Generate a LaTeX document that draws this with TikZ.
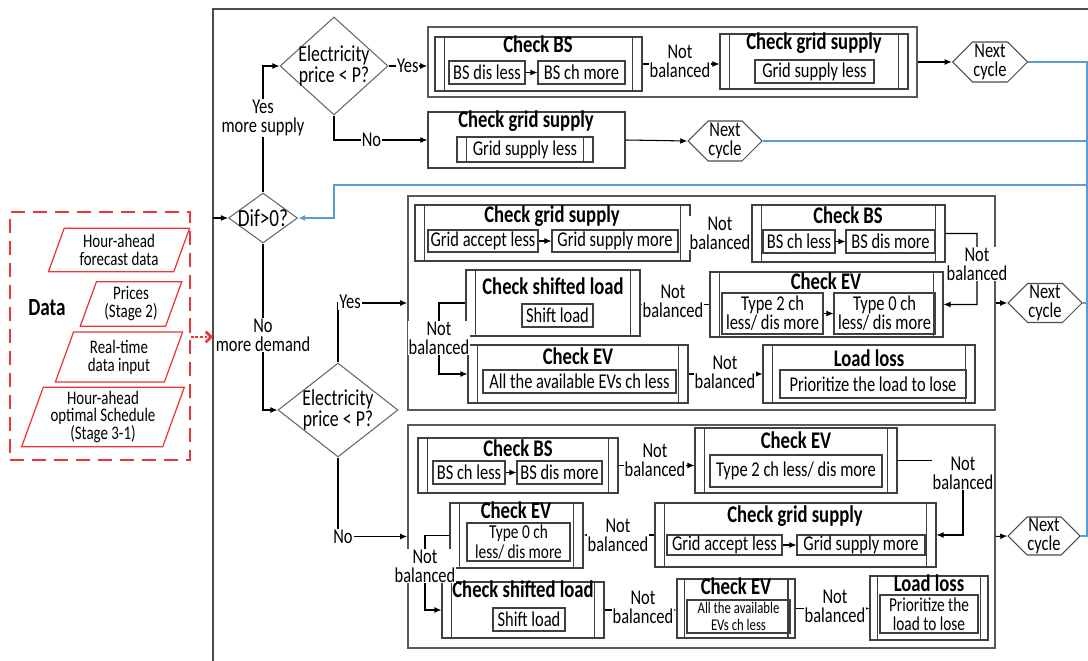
\documentclass[tikz,border=0pt]{standalone}
\usepackage{fontspec}
\setmainfont{Carlito}[FakeStretch=0.78]
\usetikzlibrary{arrows.meta,fit,shapes.geometric,shapes.symbols}
\definecolor{lblue}{RGB}{91,155,213}
\definecolor{dred}{RGB}{238,52,52}
\tikzset{
  arr/.style={-{Latex[length=4pt,width=3.4pt]}, line width=0.6pt},
  txt/.style={font=\fontsize{12}{10.8}\selectfont, align=center, inner sep=0.5pt},
  tx/.style={label={[txt]center:#1}},
  txs/.style={label={[txt, font=\fontsize{11.2}{11}\selectfont]center:#1}},
  lbl/.style={txt, fill=white},
  ttl/.style={font=\fontsize{13.6}{13}\selectfont\bfseries, inner sep=0pt, anchor=base},
  grp/.style={draw=black!65, line width=1pt, inner sep=0pt},
  plain/.style={draw=black!75, line width=0.6pt, inner sep=0pt},
  proc/.style={draw=black!75, line width=0.6pt, inner sep=0pt,
    path picture={
      \draw[black!75, line width=0.6pt]
        ([xshift=#1]path picture bounding box.north west) -- ([xshift=#1]path picture bounding box.south west)
        ([xshift=-#1]path picture bounding box.north east) -- ([xshift=-#1]path picture bounding box.south east);}},
  proc/.default=5.5pt,
  dec/.style={diamond, draw=black!60, line width=0.6pt, inner sep=0pt},
  dectxt/.style={font=\fontsize{13}{12.3}\selectfont, align=center, inner sep=0pt},
  nxt/.style={signal, signal to=east and west, draw=black!70, line width=0.6pt, txt, inner sep=0pt},
  src/.style={trapezium, trapezium left angle=70, trapezium right angle=110, draw=dred,
    line width=0.7pt, inner sep=0pt, font=\fontsize{10.9}{10.2}\selectfont, align=center},
  databox/.style={draw=dred, dash pattern=on 8pt off 4.5pt, line width=1pt, inner sep=0pt},
  back/.style={draw=lblue, line width=0.8pt},
}
\begin{document}
\begin{tikzpicture}[x=0.02cm, y=-0.02cm]
\useasboundingbox (0,0) rectangle (1088,661);
% frame
\draw[black!70, line width=0.8pt] (213,661) -- (213,9) -- (1088,9);

% data inputs
\node[databox, fit={(10,212) (190,460)}] (data) {};
\node[font=\fontsize{14}{14}\selectfont\bfseries] (dataT) at (47,308) {Data};
\node[src, minimum width=2.84cm, minimum height=0.8cm] (src1) at (119,250) {Hour-ahead\\forecast data};
\node[src, minimum width=2.04cm, minimum height=0.72cm] (src2) at (131,304) {Prices\\(Stage 2)};
\node[src, minimum width=2.56cm, minimum height=0.9cm] (src3) at (119,357) {Real-time\\data input};
\node[src, minimum width=3.26cm, minimum height=1.12cm] (src4) at (103,417) {Hour-ahead\\optimal Schedule\\(Stage 3-1)};
\coordinate (dIn) at (213,337);
\draw[dred, densely dotted, line width=1.6pt, -{Straight Barb[length=3pt]}] (data.east |- dIn) -- (dIn);

% decisions
\node[dec, minimum width=1.38cm, minimum height=1cm,
  label={[dectxt, font=\fontsize{14}{14}\selectfont]center:Dif>0?}] (dif) at (263,218) {};
\node[dec, minimum width=2.16cm, minimum height=1.96cm,
  label={[dectxt]center:Electricity\\price < P?}] (dec1) at (334,66) {};
\node[dec, minimum width=2.4cm, minimum height=1.88cm,
  label={[dectxt]center:Electricity\\price < P?}] (dec2) at (338,410) {};
\coordinate (difIn) at (213,218);
\draw[arr] (difIn) -- (dif.west);

% more supply, cheap
\node[grp, fit={(428,27) (917,97)}] (grpA) {};
\node[proc, fit={(435,37) (642,91)}] (bs1) {};
\node[ttl] (bs1t) at (538,53) {Check BS};
\node[plain, fit={(449,61) (525,84)}, tx={BS dis less}] (bs1a) {};
\node[plain, fit={(538,61) (625,84)}, tx={BS ch more}] (bs1b) {};
\draw[arr] (bs1a) -- (bs1b);
\node[proc, fit={(720,34) (908,89)}] (gs1) {};
\node[ttl] (gs1t) at (814,50) {Check grid supply};
\node[plain, fit={(755,60) (874,83)}, tx={Grid supply less}] (gs1a) {};
\draw[arr] (bs1.east) -- (bs1.east -| gs1.west);
\node[lbl] (nb1) at (680,61) {Not\\balanced};
\node[nxt, minimum width=1.5cm, minimum height=0.8cm] (nx1) at (990,62) {Next\\cycle};
\draw[arr] (grpA.east) -- (nx1.west);

% more supply, expensive
\node[plain, fit={(428,112) (625,168)}] (gs2) {};
\node[ttl] (gs2t) at (526,128) {Check grid supply};
\node[proc, fit={(457,137) (593,162)}, tx={Grid supply less}] (gs2a) {};
\node[nxt, minimum width=1.48cm, minimum height=0.8cm] (nx2) at (725,141) {Next\\cycle};
\draw[arr] (gs2.east) -- (nx2.west);

\draw[arr] (dif.north) |- (dec1.west);
\node[lbl] (ysup) at (263,118) {Yes\\more supply};
\draw[arr] (dec1.east) -- (dec1.east -| grpA.west) node[lbl, midway] (y1) {Yes};
\draw[arr] (dec1.south) |- (gs2.west) node[lbl, pos=0.7] (n1) {No};

% more demand, cheap
\node[grp, fit={(408,196) (995,410)}] (grpB) {};
\node[proc, fit={(415,205) (690,261)}] (gs3) {};
\node[ttl] (gs3t) at (552,223) {Check grid supply};
\node[plain, fit={(428,230) (538,252)}, tx={Grid accept less}] (gs3a) {};
\node[plain, fit={(552,230) (678,252)}, tx={Grid supply more}] (gs3b) {};
\draw[arr] (gs3a) -- (gs3b);
\node[proc, fit={(752,205) (945,262)}] (bs3) {};
\node[ttl] (bs3t) at (848,224) {Check BS};
\node[plain, fit={(763,230) (835,253)}, tx={BS ch less}] (bs3a) {};
\node[plain, fit={(846,230) (935,253)}, tx={BS dis more}] (bs3b) {};
\draw[arr] (bs3a) -- (bs3b);
\draw[arr] (gs3.east) -- (gs3.east -| bs3.west);
\node[lbl] (nb3) at (720,233) {Not\\balanced};
\node[proc, fit={(710,272) (943,337)}] (ev3) {};
\node[ttl] (ev3t) at (826,290) {Check EV};
\node[plain, fit={(722,293) (823,334)}, tx={Type 2 ch\\less/ dis more}] (ev3a) {};
\node[plain, fit={(834,293) (935,334)}, tx={Type 0 ch\\less/ dis more}] (ev3b) {};
\draw[arr] (ev3a) -- (ev3b);
\coordinate (c3) at (977,304.5);
\draw[arr] (bs3.east) -| (c3) -- (ev3.east);
\node[lbl] (nb3b) at (977,264) {Not\\balanced};
\node[proc, fit={(466,270) (640,336)}] (ls3) {};
\node[ttl] (ls3t) at (553,295) {Check shifted load};
\node[plain, fit={(522,304) (593,327)}, tx={Shift load}] (ls3a) {};
\draw[arr] (ev3.west) -- (ev3.west -| ls3.east);
\node[lbl] (nb4) at (673,301) {Not\\balanced};
\node[proc, fit={(468,345) (688,403)}] (ev4) {};
\node[ttl] (ev4t) at (578,365) {Check EV};
\node[plain, fit={(483,370) (676,393)}, tx={All the available EVs ch less}] (ev4a) {};
\coordinate (c4) at (439,374);
\draw[arr] (ls3.west) -| (c4) -- (ev4.west);
\node[lbl] (nb5) at (439,338) {Not\\balanced};
\node[proc, fit={(763,345) (975,403)}] (ll4) {};
\node[ttl] (ll4t) at (869,367) {Load loss};
\node[plain, fit={(780,370) (966,398)}, tx={Prioritize the load to lose}] (ll4a) {};
\draw[arr] (ev4.east) -- (ev4.east -| ll4.west);
\node[lbl] (nb6) at (725,372) {Not\\balanced};
\node[nxt, minimum width=1.48cm, minimum height=0.78cm] (nxM) at (1045,303) {Next\\cycle};
\draw[arr] (grpB.east) -- (nxM.west);

\draw[arr] (dif.south) |- (dec2.west);
\node[lbl] (ndem) at (263,335) {No\\more demand};
\draw[arr] (dec2.north) |- (grpB.west);
\node[lbl] (y2) at (350,302) {Yes};

% more demand, expensive
\node[grp, fit={(408,425) (995,648)}] (grpC) {};
\node[proc, fit={(418,438) (618,493)}] (bs5) {};
\node[ttl] (bs5t) at (518,457) {Check BS};
\node[plain, fit={(433,461) (505,484)}, tx={BS ch less}] (bs5a) {};
\node[plain, fit={(517,461) (602,484)}, tx={BS dis more}] (bs5b) {};
\draw[arr] (bs5a) -- (bs5b);
\node[proc, fit={(695,428) (897,493)}] (ev5) {};
\node[ttl] (ev5t) at (796,449) {Check EV};
\node[plain, fit={(710,455) (882,487)}, tx={Type 2 ch less/ dis more}] (ev5a) {};
\draw[arr] (bs5.east) -- (bs5.east -| ev5.west);
\node[lbl] (nb7) at (655,460) {Not\\balanced};
\node[proc, fit={(655,503) (936,567)}] (gs6) {};
\node[ttl] (gs6t) at (795,523) {Check grid supply};
\node[plain, fit={(667,535) (782,555)}, tx={Grid accept less}] (gs6a) {};
\node[plain, fit={(797,535) (925,555)}, tx={Grid supply more}] (gs6b) {};
\draw[arr] (gs6a) -- (gs6b);
\coordinate (c6) at (963,535);
\draw[arr] (ev5.east) -| (c6) -- (gs6.east);
\node[lbl] (nb8) at (963,473) {Not\\balanced};
\node[proc, fit={(450,503) (583,568)}] (ev6) {};
\node[ttl] (ev6t) at (516,519) {Check EV};
\node[plain, fit={(467,523) (570,561)}, txs={Type 0 ch\\less/ dis more}] (ev6a) {};
\draw[arr] (gs6.west) -- (gs6.west -| ev6.east);
\node[lbl] (nb9) at (618,535) {Not\\balanced};
\node[proc, fit={(442,582) (604,638)}] (ls7) {};
\node[ttl] (ls7t) at (523,598) {Check shifted load};
\node[plain, fit={(493,608) (565,631)}, tx={Shift load}] (ls7a) {};
\coordinate (c7) at (425,610);
\draw[arr] (ev6.west) -| (c7) -- (ls7.west);
\node[lbl] (nb10) at (425,566) {Not\\balanced};
\node[proc=4pt, fit={(677,579) (795,638)}] (ev7) {};
\node[ttl] (ev7t) at (736,595) {Check EV};
\node[plain, fit={(687,600) (790,633)},
  label={[txt, font=\fontsize{9.3}{9.3}\selectfont]center:All the available\\EVs ch less}] (ev7a) {};
\draw[arr] (ls7.east) -- (ls7.east -| ev7.west);
\node[lbl] (nb11) at (643,607) {Not\\balanced};
\node[proc=4.5pt, fit={(870,576) (988,640)}] (ll7) {};
\node[ttl] (ll7t) at (929,591) {Load loss};
\node[plain, fit={(880,595) (978,633)}, txs={Prioritize the\\load to lose}] (ll7a) {};
\draw[arr] (ev7.east) -- (ev7.east -| ll7.west);
\node[lbl] (nb12) at (835,606) {Not\\balanced};
\node[nxt, minimum width=1.44cm, minimum height=0.76cm] (nx3) at (1044,536) {Next\\cycle};
\draw[arr] (grpC.east) -- (nx3.west);

\draw[arr] (dec2.south) |- (grpC.west);
\node[lbl] (n2) at (343,537) {No};

% back to start
\coordinate (rA) at (1087,62);
\coordinate (rB) at (1087,536);
\coordinate (rC) at (1087,185);
\coordinate (rD) at (334,185);
\draw[back] (nx1.east) -- (rA) -- (rB) -- (nx3.east);
\draw[back] (nx2.east) -- (nx2.east -| rA);
\draw[back] (nxM.east) -- (nxM.east -| rA);
\draw[back, -{Latex[length=4pt,width=3.4pt]}] (rC) -- (rD) |- (dif.east);
\end{tikzpicture}
\end{document}
